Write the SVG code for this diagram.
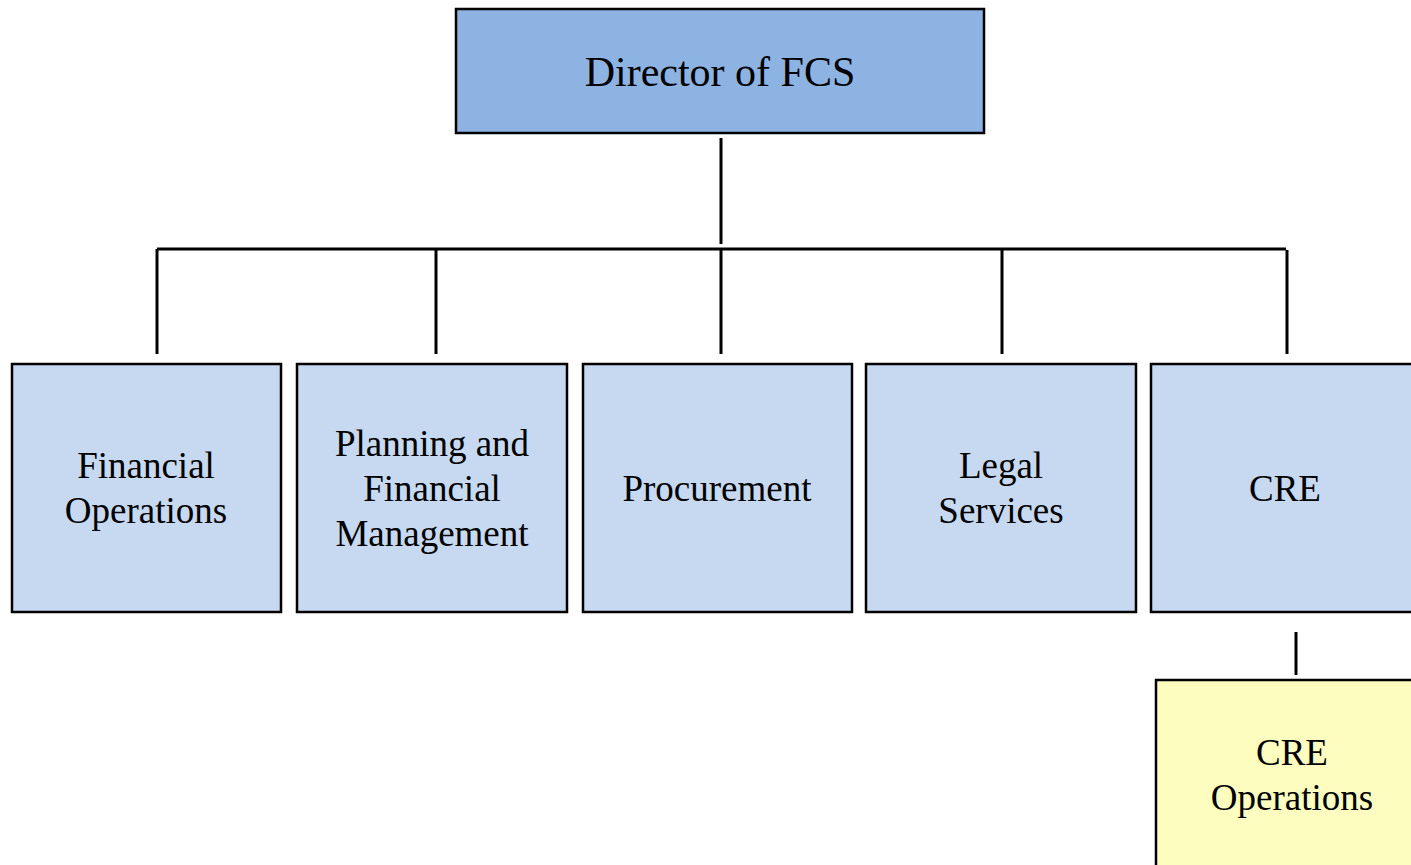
<svg xmlns="http://www.w3.org/2000/svg" width="1411" height="865" viewBox="0 0 1411 865">
<style>
.box{stroke:#000;stroke-width:2.5}
.top{fill:#8DB3E2}
.mid{fill:#C6D9F0}
.low{fill:#FDFDBF}
.t{font-family:"Liberation Serif","Times New Roman",serif;font-size:37px;fill:#000;text-anchor:middle}
.big{font-size:42px}
.ln{stroke:#000;stroke-width:3;fill:none}
</style>
<rect width="1411" height="865" fill="#fff"/>
<g id="connectors">
<line class="ln" x1="721" y1="138" x2="721" y2="244"/>
<line class="ln" x1="157" y1="249" x2="1286" y2="249"/>
<line class="ln" x1="157" y1="249" x2="157" y2="354"/>
<line class="ln" x1="436" y1="249" x2="436" y2="354"/>
<line class="ln" x1="721" y1="249" x2="721" y2="354"/>
<line class="ln" x1="1002" y1="249" x2="1002" y2="354"/>
<line class="ln" x1="1287" y1="250" x2="1287" y2="354"/>
<line class="ln" x1="1296" y1="632" x2="1296" y2="675"/>
</g>
<g id="director">
<rect class="box top" x="456" y="9" width="528" height="124"/>
<text class="t big" x="720" y="86">Director of FCS</text>
</g>
<g id="financial-operations">
<rect class="box mid" x="12" y="364" width="269" height="248"/>
<text class="t" x="146" y="478">Financial</text>
<text class="t" x="146" y="523">Operations</text>
</g>
<g id="planning">
<rect class="box mid" x="297" y="364" width="270" height="248"/>
<text class="t" x="432" y="456">Planning and</text>
<text class="t" x="432" y="501">Financial</text>
<text class="t" x="432" y="546">Management</text>
</g>
<g id="procurement">
<rect class="box mid" x="583" y="364" width="269" height="248"/>
<text class="t" x="717" y="501">Procurement</text>
</g>
<g id="legal">
<rect class="box mid" x="866" y="364" width="270" height="248"/>
<text class="t" x="1001" y="478">Legal</text>
<text class="t" x="1001" y="523">Services</text>
</g>
<g id="cre">
<rect class="box mid" x="1151" y="364" width="270" height="248"/>
<text class="t" x="1285" y="501">CRE</text>
</g>
<g id="cre-operations">
<rect class="box low" x="1156" y="680" width="270" height="200"/>
<text class="t" x="1292" y="765">CRE</text>
<text class="t" x="1292" y="810">Operations</text>
</g>
</svg>
